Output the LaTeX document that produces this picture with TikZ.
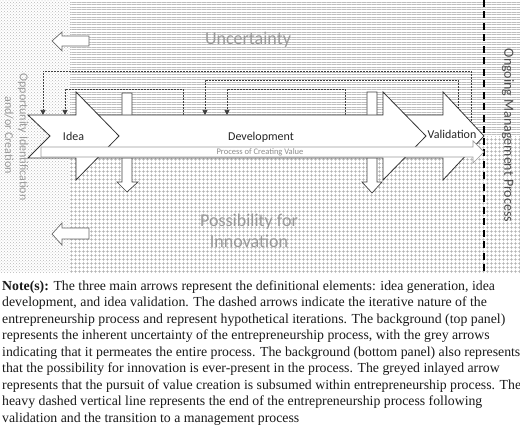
\documentclass[tikz,border=0pt]{standalone}
\usepackage{fontspec}
\setmainfont{Liberation Serif}
\newfontfamily\calibri{Carlito}
\usepackage{tikz}
\usetikzlibrary{patterns, patterns.meta, arrows.meta}

\begin{document}
\begin{tikzpicture}[x=1pt, y=-1pt,
    mainarrow/.style={draw=black!80, fill=white, line width=0.8pt},
    blockarrow/.style={draw=black!75, fill=white, line width=0.7pt},
    iterline/.style={draw=black!75, line width=0.7pt, dash pattern=on 2pt off 1pt, -{Triangle[length=5pt, width=5pt]}},
    bgtext/.style={text=black!40, font=\calibri\fontsize{18}{21.5}\selectfont, align=center},
    sidetext/.style={text=black!40, font=\calibri\fontsize{12}{14}\selectfont, rotate=-90},
    steptext/.style={text=black!85, font=\calibri\fontsize{12}{14}\selectfont}]

    \useasboundingbox (0,0) rectangle (520,427);

    % Backgrounds: opportunity strip, uncertainty (top), innovation (bottom)
    \fill[pattern=crosshatch dots, pattern color=black!28] (0,0) rectangle (70,273);
    \fill[pattern={Lines[distance=2.5pt, line width=0.5pt]}, pattern color=black!25] (70,0) rectangle (520,137);
    \fill[pattern={Hatch[angle=0, distance=4pt, line width=0.5pt]}, pattern color=black!32] (70,137) rectangle (520,273);

    % Grey arrows pointing back
    \draw[blockarrow, draw=black!60] (52,41) -- (62,32) -- (62,36) -- (89,36) -- (89,46) -- (62,46) -- (62,51) -- cycle;
    \draw[blockarrow, draw=black!60] (52,234) -- (62,223) -- (62,228) -- (89,228) -- (89,239) -- (62,239) -- (62,245) -- cycle;

    % Background labels
    \node[bgtext, anchor=base] (uncert) at (248,45) {Uncertainty};
    \node[bgtext] (possib) at (249,231) {Possibility for\\Innovation};
    \node[sidetext] (oppid) at (23,137) {Opportunity Identification};
    \node[sidetext] (oppcr) at (9,135) {and/or Creation};
    \node[text=black!70, font=\calibri\fontsize{14}{16}\selectfont, rotate=-90] (mgmt) at (508,135.5) {Ongoing Management Process};

    % End of the process
    \coordinate (endTop) at (484,0);
    \coordinate (endBot) at (484,273);
    \draw[line width=2.3pt, dash pattern=on 7pt off 4.5pt] (endTop) -- (endBot);

    % Dashed iterations (behind the main arrows)
    \coordinate (valA) at (471,130);
    \coordinate (valB) at (458,115);
    \coordinate (devA) at (183,115);
    \coordinate (devB) at (345,115);
    \coordinate (ideaA) at (43,115);
    \coordinate (ideaB) at (65,115);
    \coordinate (devC) at (205,115);
    \coordinate (devD) at (227,115);
    \draw[iterline] (valA) |- (43,71) -- (ideaA);
    \draw[iterline] (devA) |- (65,89) -- (ideaB);
    \draw[iterline] (valB) |- (205,80) -- (devC);
    \draw[iterline] (devB) |- (227,89) -- (devD);

    % Vertical arrows through the process
    \draw[blockarrow] (122,93) -- (132,93) -- (132,182) -- (138,182) -- (127,192) -- (117,182) -- (122,182) -- cycle;
    \draw[blockarrow] (367,92) -- (377,92) -- (377,182) -- (382,182) -- (372,193) -- (362,182) -- (367,182) -- cycle;

    % The three main arrows
    \draw[mainarrow] (388,115) -- (443,115) -- (443,92) -- (484,136) -- (443,180) -- (443,158) -- (388,158) -- (410,136) -- cycle;
    \draw[mainarrow] (80,115) -- (383,115) -- (383,92) -- (426,136) -- (383,180) -- (383,158) -- (80,158) -- (102,136) -- cycle;
    \draw[mainarrow] (28,115) -- (76,115) -- (76,92) -- (119,136) -- (76,180) -- (76,158) -- (28,158) -- (50,136) -- cycle;
    \node[steptext, anchor=base] (idea) at (73.5,141) {Idea};
    \node[steptext, anchor=base] (dev) at (261,141) {Development};
    \node[steptext, anchor=base] (val) at (452,138.5) {Validation};

    % Inlaid arrow: creating value
    \draw[draw=black!40, fill=white, line width=0.7pt] (41,147) -- (473,147) -- (473,141) -- (484,152) -- (473,163) -- (473,157) -- (41,157) -- cycle;
    \node[text=black!45, font=\calibri\fontsize{8.5}{10}\selectfont, anchor=base] (value) at (260,155) {Process of Creating Value};

    \node[anchor=north west, inner sep=0pt, align=left, text=black!90, font=\fontsize{13.8}{16.5}\selectfont] (note) at (2,280.5) {%
        \textbf{Note(s):} The three main arrows represent the definitional elements: idea generation, idea\\
        development, and idea validation. The dashed arrows indicate the iterative nature of the\\
        entrepreneurship process and represent hypothetical iterations. The background (top panel)\\
        represents the inherent uncertainty of the entrepreneurship process, with the grey arrows\\
        indicating that it permeates the entire process. The background (bottom panel) also represents\\
        that the possibility for innovation is ever-present in the process. The greyed inlayed arrow\\
        represents that the pursuit of value creation is subsumed within entrepreneurship process. The\\
        heavy dashed vertical line represents the end of the entrepreneurship process following\\
        validation and the transition to a management process};
\end{tikzpicture}
\end{document}
